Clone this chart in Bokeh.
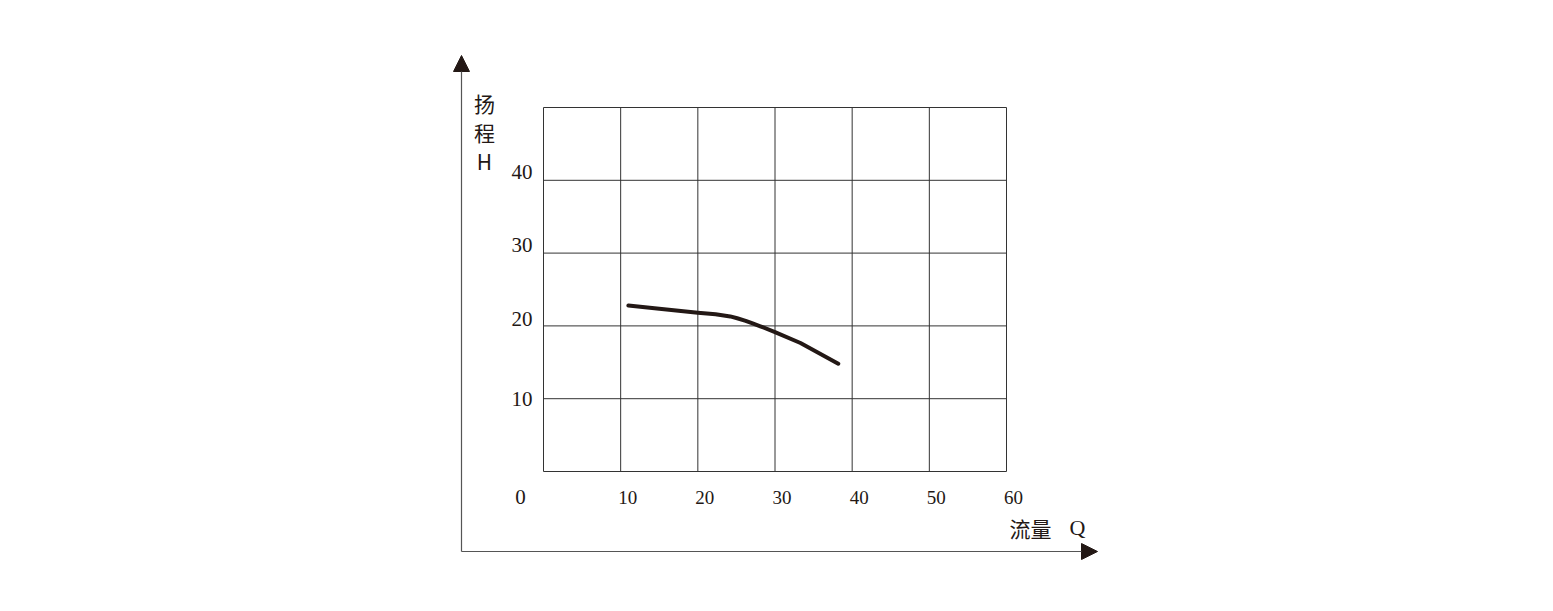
from bokeh.plotting import figure
from bokeh.models import Range1d, Arrow, NormalHead, ColumnDataSource
from bokeh.core.properties import value
from bokeh.embed import file_html
from bokeh.resources import INLINE

# ---- data ----
flow_q = [11.0, 15.0, 20.0, 22.3, 24.2, 25.1, 26.2, 27.1, 28.1, 30.0, 33.3, 38.2]
head_h = [22.8, 22.35, 21.8, 21.6, 21.3, 21.05, 20.7, 20.35, 19.95, 19.15, 17.65, 14.8]
x_ticks = [10, 20, 30, 40, 50, 60]
y_ticks = [10, 20, 30, 40]
x_grid = [0, 10, 20, 30, 40, 50, 60]
y_grid = [0, 10, 20, 30, 40, 50]
y_title = ["扬", "程", "H"]
x_title_cn = "流量"
x_title_sym = "Q"

# ---- layout ----
W, H = 1537, 595
px_x = 463.0 / 60.0   # pixels per Q unit
px_y = 364.0 / 50.0   # pixels per H unit
ox, oy = 543, 471  # pixel of origin on canvas
x0 = -ox / px_x
x1 = x0 + W / px_x
y1 = oy / px_y
y0 = y1 - H / px_y

p = figure(width=W, height=H, output_backend="svg", toolbar_location=None,
           x_range=Range1d(x0, x1), y_range=Range1d(y0, y1),
           x_axis_location=None, y_axis_location=None, min_border=0)
p.grid.visible = False
p.outline_line_color = None
p.background_fill_color = "white"
p.border_fill_color = "white"

grid_col = "#333333"
xmin, xmax = min(x_grid), max(x_grid)
ymin, ymax = min(y_grid), max(y_grid)
p.segment(x0=x_grid, y0=[ymin] * len(x_grid), x1=x_grid, y1=[ymax] * len(x_grid),
          line_color=grid_col, line_width=1)
p.segment(x0=[xmin] * len(y_grid), y0=y_grid, x1=[xmax] * len(y_grid), y1=y_grid,
          line_color=grid_col, line_width=1)

# outer axes with arrows
ax_x = -82 / px_x
ax_y = -80 / px_y
top = 416 / px_y
right = 554 / px_x
head_kw = dict(size=16, fill_color="#231815", line_color="#231815")
p.add_layout(Arrow(end=NormalHead(**head_kw), x_start=ax_x, y_start=ax_y,
                   x_end=ax_x, y_end=top, line_color="#555555", line_width=1.2))
p.add_layout(Arrow(end=NormalHead(**head_kw), x_start=ax_x, y_start=ax_y,
                   x_end=right, y_end=ax_y, line_color="#555555", line_width=1.2))

# curve
p.line(flow_q, head_h, line_color="#231815", line_width=4, line_cap="round", line_join="round")

serif = value("Liberation Serif")
txt_col = "#231815"

# y tick labels
ysrc = ColumnDataSource(dict(x=[0] * len(y_ticks), y=y_ticks, t=[str(v) for v in y_ticks],
                             off=[0, -7, -8, -8]))
p.text(x="x", y="y", text="t", source=ysrc, x_offset=-11, y_offset="off",
       text_align="right", text_baseline="middle", text_font=serif,
       text_font_size="21px", text_color=txt_col)

# x tick labels
xsrc = ColumnDataSource(dict(x=x_ticks, y=[0] * len(x_ticks), t=[str(v) for v in x_ticks]))
p.text(x="x", y="y", text="t", source=xsrc, x_offset=7, y_offset=26,
       text_align="center", text_baseline="middle", text_font=serif,
       text_font_size="19px", text_color=txt_col)

# origin label
p.text(x=[0], y=[0], text=["0"], x_offset=-23, y_offset=25, text_align="center",
       text_baseline="middle", text_font=serif, text_font_size="21px", text_color=txt_col)

# y title (vertical stack)
p.text(x=[ax_x] * 3, y=[ymax] * 3, text=y_title, x_offset=23,
       y_offset=[-5, 24, 53], text_align="center", text_baseline="middle",
       text_font=value("Noto Sans CJK SC"), text_font_size="21px", text_color=txt_col)

# x title
p.text(x=[xmax], y=[0], text=[x_title_cn], x_offset=24, y_offset=56, text_align="center",
       text_baseline="middle", text_font=value("Noto Sans CJK SC"), text_font_size="21px",
       text_color=txt_col)
p.text(x=[xmax], y=[0], text=[x_title_sym], x_offset=71, y_offset=56, text_align="center",
       text_baseline="middle", text_font=serif, text_font_size="22px", text_color=txt_col)

open("out.html", "w").write(file_html(p, INLINE))
